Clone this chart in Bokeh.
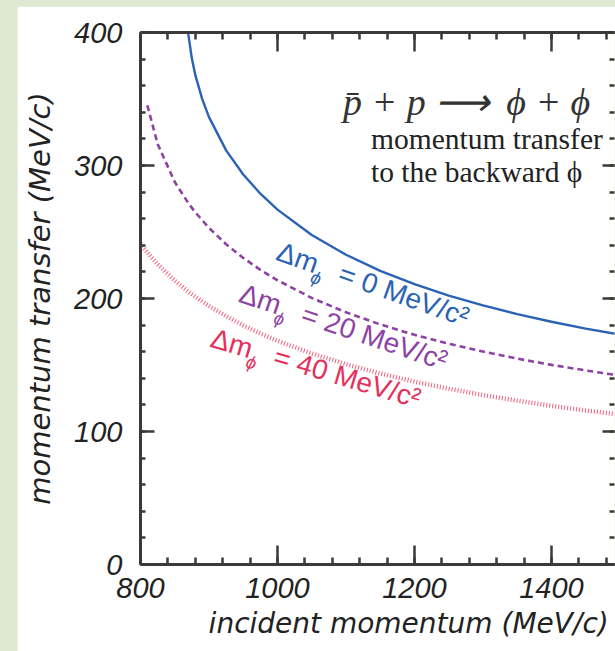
import math
from bokeh.plotting import figure
from bokeh.models import Label, LinearAxis, Range1d, SingleIntervalTicker
from bokeh.layouts import column
from bokeh.embed import file_html
from bokeh.resources import INLINE

# ---- data (incident momentum MeV/c -> momentum transfer MeV/c) ----
blue_x = [866.4, 870, 875, 880, 890, 900, 925, 950, 975, 1000, 1050, 1100,
          1150, 1200, 1250, 1300, 1350, 1400, 1450, 1500]
blue_y = [433.2, 398.0, 380.4, 368.1, 350.1, 336.4, 311.4, 293.2, 278.8, 266.8,
          247.7, 232.9, 220.8, 210.8, 202.2, 194.8, 188.3, 182.5, 177.4, 172.8]

purple_x = [810, 825, 850, 870, 880, 900, 925, 950, 975, 1000, 1050, 1100,
            1150, 1200, 1250, 1300, 1350, 1400, 1450, 1500]
purple_y = [345.3, 316.2, 287.6, 271.6, 264.8, 253.1, 240.8, 230.5, 221.5, 213.7,
            200.4, 189.6, 180.5, 172.7, 166.0, 160.1, 154.8, 150.1, 145.9, 142.0]

red_x = [800, 810, 825, 850, 870, 880, 900, 925, 950, 975, 1000, 1050, 1100,
         1150, 1200, 1250, 1300, 1350, 1400, 1450, 1500]
red_y = [241.2, 234.6, 225.8, 213.5, 205.1, 201.3, 194.4, 186.7, 179.8, 173.7,
         168.2, 158.7, 150.6, 143.6, 137.5, 132.2, 127.4, 123.2, 119.3, 115.8, 112.7]

x_ticks = [800, 1000, 1200, 1400]
y_ticks = [0, 100, 200, 300, 400]

BLUE = "#2a62b5"
PURPLE = "#8d43a3"
RED_LINE = "#f0607f"
RED_TEXT = "#e6305c"
AXIS = "#3a3a3a"
GREEN_BG = "#dfe8d3"
NB = "\u00a0"

p = figure(width=598, height=645, output_backend="svg", toolbar_location=None,
           x_range=Range1d(800, 1492), y_range=Range1d(0, 400),
           min_border_left=123, min_border_right=1, min_border_top=26,
           min_border_bottom=87, background_fill_color="white",
           border_fill_color="white", outline_line_color=None)
p.margin = (6, 0, 0, 17)
p.grid.visible = False

# curves
p.line(blue_x, blue_y, line_color=BLUE, line_width=2.4)
p.line(purple_x, purple_y, line_color=PURPLE, line_width=2.6, line_dash="6 4")
p.line(red_x, red_y, line_color=RED_LINE, line_width=4.5, line_dash="1 2")

TICK_FONT = "Liberation Sans"
AXIS_FONT = "DejaVu Sans"


def style_axis(ax, tick_in_major, tick_in_minor):
    ax.axis_line_width = 3
    ax.axis_line_color = AXIS
    ax.major_tick_line_color = AXIS
    ax.minor_tick_line_color = AXIS
    ax.major_tick_line_width = 2.5
    ax.minor_tick_line_width = 2.5
    ax.major_tick_in = tick_in_major
    ax.major_tick_out = 0
    ax.minor_tick_in = tick_in_minor
    ax.minor_tick_out = 0


xa = p.xaxis[0]
xa.ticker = SingleIntervalTicker(interval=200, num_minor_ticks=5)
style_axis(xa, 19, 7)
xa.major_label_text_font = TICK_FONT
xa.major_label_text_font_style = "italic"
xa.major_label_text_font_size = "29px"
xa.major_label_text_color = "#222222"
xa.major_label_standoff = 13
xa.axis_label = NB * 7 + "incident momentum (MeV/c)"
xa.axis_label_text_font = AXIS_FONT
xa.axis_label_text_font_style = "italic"
xa.axis_label_text_font_size = "28px"
xa.axis_label_text_color = "#222222"
xa.axis_label_standoff = 6

ya = p.yaxis[0]
ya.ticker = SingleIntervalTicker(interval=100, num_minor_ticks=5)
style_axis(ya, 14, 5)
ya.major_label_text_font = TICK_FONT
ya.major_label_text_font_style = "italic"
ya.major_label_text_font_size = "29px"
ya.major_label_text_color = "#222222"
ya.major_label_standoff = 18
ya.axis_label = "momentum transfer (MeV/c)"
ya.axis_label_text_font = AXIS_FONT
ya.axis_label_text_font_style = "italic"
ya.axis_label_text_font_size = "29px"
ya.axis_label_text_color = "#222222"
ya.axis_label_standoff = 14

top = LinearAxis(ticker=SingleIntervalTicker(interval=200, num_minor_ticks=5))
style_axis(top, 19, 7)
top.major_label_overrides = {t: "" for t in x_ticks}
top.major_label_standoff = 0
p.add_layout(top, "above")

right = LinearAxis(ticker=SingleIntervalTicker(interval=100, num_minor_ticks=5))
style_axis(right, 12, 5)
right.axis_line_alpha = 0
right.major_label_overrides = {t: "" for t in y_ticks}
right.major_label_standoff = 0
p.add_layout(right, "right")


# screen units are measured from the frame's bottom-left corner,
# which lies at page (140.5, 564)
def sx(px):
    return px - 140.5


def sy(py):
    return 564 - py


SERIF = "Liberation Serif"
p.add_layout(Label(x=sx(343), y=sy(101), x_units="screen", y_units="screen",
                   text="p\u0304 + p \u27f6\u2009 \u03d5 + \u03d5", text_font=SERIF,
                   text_font_style="italic", text_font_size="38px",
                   text_color="#333333", text_baseline="alphabetic"))
p.add_layout(Label(x=sx(371), y=sy(138), x_units="screen", y_units="screen",
                   text="momentum transfer", text_font=SERIF,
                   text_font_size="29.5px", text_color="#222222",
                   text_baseline="alphabetic"))
p.add_layout(Label(x=sx(371), y=sy(171), x_units="screen", y_units="screen",
                   text="to the backward \u03d5", text_font=SERIF,
                   text_font_size="29.5px", text_color="#222222",
                   text_baseline="alphabetic"))

# rotated curve labels
LABEL_FONT = "Liberation Sans"


def curve_label(x, y, deg, text, color, sub_along=40, sub_down=13):
    ang = math.radians(-deg)
    p.add_layout(Label(x=x, y=y, angle=ang, text=text, text_font=LABEL_FONT,
                       text_font_size="28px", text_color=color,
                       text_baseline="alphabetic", text_align="left"))
    xo = sub_along * math.cos(ang) + sub_down * math.sin(ang)
    yo = sub_along * math.sin(ang) - sub_down * math.cos(ang)
    p.add_layout(Label(x=x, y=y, x_offset=xo, y_offset=yo, angle=ang,
                       text="\u03d5", text_font=LABEL_FONT,
                       text_font_style="italic", text_font_size="18px",
                       text_color=color, text_baseline="alphabetic",
                       text_align="left"))


curve_label(1000.7, 236.0, 19.5, "\u0394m" + NB * 3 + "= 0 MeV/c\u00b2", BLUE)
curve_label(946.0, 204.6, 18.5, "\u0394m" + NB * 3 + "= 20 MeV/c\u00b2", PURPLE)
curve_label(904.0, 170.8, 16.5, "\u0394m" + NB * 3 + "= 40 MeV/c\u00b2", RED_TEXT)

layout = column(p, styles={"background-color": GREEN_BG})
open("out.html", "w").write(file_html(layout, INLINE))
